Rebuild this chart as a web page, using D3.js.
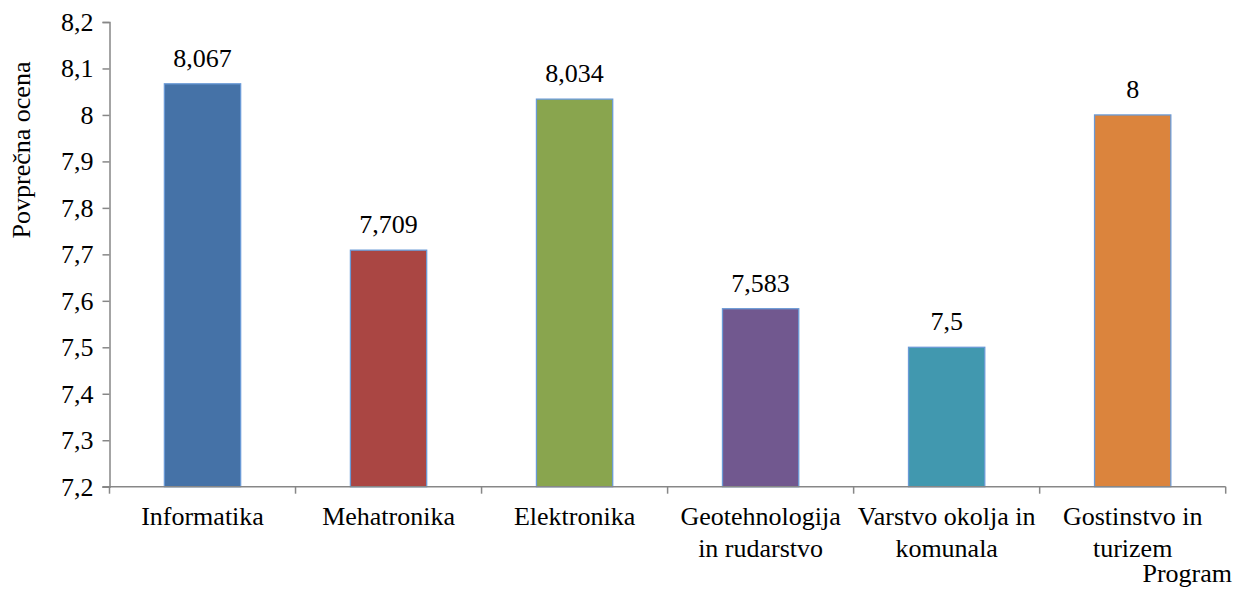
<!DOCTYPE html>
<html>
<head>
<meta charset="utf-8">
<script src="https://cdn.jsdelivr.net/npm/d3@7"></script>
<style>
  html, body { margin: 0; padding: 0; background: #fff; }
</style>
</head>
<body>
<div id="chartContainer"></div>
<script>
// average grade per study programme
const programs = ["Informatika", "Mehatronika", "Elektronika", "Geotehnologija in rudarstvo", "Varstvo okolja in komunala", "Gostinstvo in turizem"];
const labelLines = [["Informatika"], ["Mehatronika"], ["Elektronika"], ["Geotehnologija", "in rudarstvo"], ["Varstvo okolja in", "komunala"], ["Gostinstvo in", "turizem"]];
const grades = [8.067, 7.709, 8.034, 7.583, 7.5, 8];
const gradeLabels = ["8,067", "7,709", "8,034", "7,583", "7,5", "8"];
const barColors = ["#4572A7", "#AA4643", "#89A54E", "#71588F", "#4198AF", "#DB843D"];
const yTicks = [7.2, 7.3, 7.4, 7.5, 7.6, 7.7, 7.8, 7.9, 8, 8.1, 8.2];

function createChart() {
    const width = 1235, height = 593;
    const AXIS = "#878787";
    const FONT = 26;
    const FAMILY = "'Liberation Serif', 'DejaVu Serif', serif";

    const svg = d3.select("#chartContainer").append("svg")
        .attr("width", width)
        .attr("height", height);

    const x = d3.scaleBand()
        .domain(programs)
        .range([109.5, 1225.7])
        .paddingInner(0.59)
        .paddingOuter(0.295);

    const y = d3.scaleLinear()
        .domain([7.2, 8.2])
        .range([486.7, 22]);

    const step = x.step();
    const x0 = x.range()[0];

    // bars
    svg.append("g")
        .selectAll("rect")
        .data(programs)
        .enter()
        .append("rect")
        .attr("x", d => x(d))
        .attr("y", (d, i) => y(grades[i]))
        .attr("width", x.bandwidth())
        .attr("height", (d, i) => y(7.2) - y(grades[i]))
        .attr("fill", (d, i) => barColors[i])
        .attr("stroke", "#6A9AD6")
        .attr("stroke-width", 1.3);

    // value labels
    svg.append("g")
        .selectAll("text")
        .data(programs)
        .enter()
        .append("text")
        .attr("x", d => x(d) + x.bandwidth() / 2)
        .attr("y", (d, i) => y(grades[i]) - 17)
        .attr("text-anchor", "middle")
        .attr("font-family", FAMILY)
        .attr("font-size", FONT)
        .text((d, i) => gradeLabels[i]);

    // y axis
    const yAxis = d3.axisLeft(y)
        .tickValues(yTicks)
        .tickSize(7)
        .tickPadding(9)
        .tickFormat(d => d3.format("~g")(d).replace(".", ","));

    const gy = svg.append("g")
        .attr("transform", `translate(${x0},0)`)
        .call(yAxis)
        .attr("font-family", FAMILY)
        .attr("font-size", FONT);
    gy.select(".domain").attr("stroke", AXIS).attr("stroke-width", 1.5);
    gy.selectAll(".tick line").attr("stroke", AXIS).attr("stroke-width", 1.5);
    gy.selectAll(".tick text").attr("fill", "#000");

    // x axis line + ticks at category boundaries
    const gx = svg.append("g");
    gx.append("line")
        .attr("x1", x0 - 7).attr("x2", x.range()[1])
        .attr("y1", y(7.2)).attr("y2", y(7.2))
        .attr("stroke", AXIS).attr("stroke-width", 1.5);
    gx.selectAll("line.tick")
        .data(d3.range(programs.length + 1))
        .enter()
        .append("line")
        .attr("class", "tick")
        .attr("x1", i => x0 + i * step).attr("x2", i => x0 + i * step)
        .attr("y1", y(7.2)).attr("y2", y(7.2) + 7)
        .attr("stroke", AXIS).attr("stroke-width", 1.5);

    // category labels
    const cat = svg.append("g")
        .selectAll("text")
        .data(programs)
        .enter()
        .append("text")
        .attr("text-anchor", "middle")
        .attr("x", d => x(d) + x.bandwidth() / 2)
        .attr("y", 525)
        .attr("font-family", FAMILY)
        .attr("font-size", FONT);
    cat.selectAll("tspan")
        .data((d, i) => labelLines[i])
        .enter()
        .append("tspan")
        .attr("x", function () { return d3.select(this.parentNode).attr("x"); })
        .attr("dy", (d, i) => i === 0 ? 0 : 32)
        .text(d => d);

    // axis titles
    svg.append("text")
        .attr("transform", `translate(30,${150}) rotate(-90)`)
        .attr("text-anchor", "middle")
        .attr("font-family", FAMILY)
        .attr("font-size", FONT)
        .text("Povprečna ocena");

    svg.append("text")
        .attr("x", 1232)
        .attr("y", 582)
        .attr("text-anchor", "end")
        .attr("font-family", FAMILY)
        .attr("font-size", FONT)
        .text("Program");
}
createChart();
</script>
</body>
</html>
